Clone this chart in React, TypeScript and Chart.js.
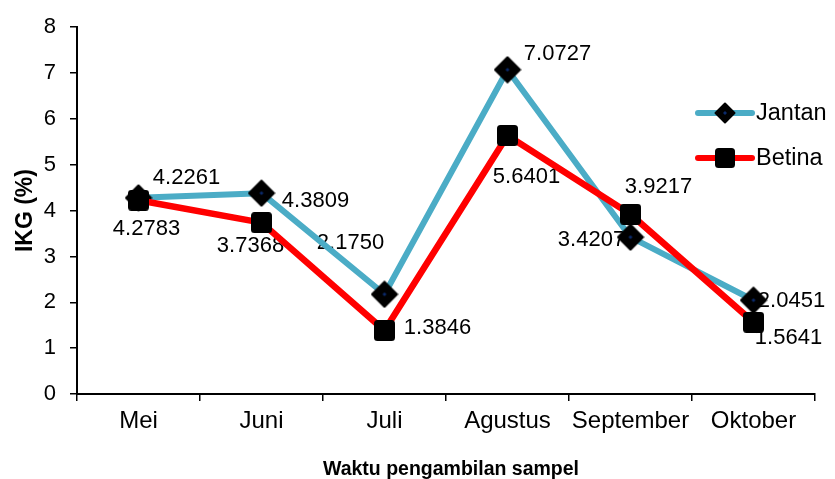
import React, { useEffect, useRef } from 'react';
import { Chart, registerables } from 'chart.js';

Chart.register(...registerables);

const categories = ['Mei', 'Juni', 'Juli', 'Agustus', 'September', 'Oktober'];
const jantanValues = [4.2783, 4.3809, 2.175, 7.0727, 3.4207, 2.0451];
const betinaValues = [4.2261, 3.7368, 1.3846, 5.6401, 3.9217, 1.5641];
const jantanLabels = ['4.2783', '4.3809', '2.1750', '7.0727', '3.4207', '2.0451'];
const betinaLabels = ['4.2261', '3.7368', '1.3846', '5.6401', '3.9217', '1.5641'];
const yMin = 0;
const yMax = 8;
const yStep = 1;
const xTitle = 'Waktu pengambilan sampel';
const yTitle = 'IKG (%)';
const seriesNames = ['Jantan', 'Betina'];

// label placement offsets (pixels from the point centre)
const jantanOffsets: [number, number][] = [[8, 31], [54, 8], [-34, -51], [50, -16], [-39, 3], [38, 1]];
const betinaOffsets: [number, number][] = [[48, -22], [-11, 23], [53, -3], [19, 42], [28, -27], [35, 16]];

const TEAL = '#4BACC6';
const RED = '#FF0000';
const FONT = "'Liberation Sans', Arial, sans-serif";

function makeDiamond(size: number): HTMLCanvasElement {
  const c = document.createElement('canvas');
  c.width = size;
  c.height = size;
  const ctx = c.getContext('2d')!;
  const h = size / 2;
  ctx.beginPath();
  ctx.moveTo(h, 1.5);
  ctx.lineTo(size - 1.5, h);
  ctx.lineTo(h, size - 1.5);
  ctx.lineTo(1.5, h);
  ctx.closePath();
  ctx.fillStyle = '#000';
  ctx.strokeStyle = '#000';
  ctx.lineWidth = 2;
  ctx.lineJoin = 'round';
  ctx.fill();
  ctx.stroke();
  ctx.fillStyle = '#0B2A6B';
  ctx.beginPath();
  ctx.moveTo(h, h - 2);
  ctx.lineTo(h + 2, h);
  ctx.lineTo(h, h + 2);
  ctx.lineTo(h - 2, h);
  ctx.closePath();
  ctx.fill();
  return c;
}

function makeSquare(size: number): HTMLCanvasElement {
  const c = document.createElement('canvas');
  c.width = size;
  c.height = size;
  const ctx = c.getContext('2d')!;
  ctx.fillStyle = '#000';
  ctx.beginPath();
  (ctx as any).roundRect(0, 0, size, size, 3.5);
  ctx.fill();
  return c;
}

export default function App() {
  const ref = useRef<HTMLCanvasElement | null>(null);

  useEffect(() => {
    if (!ref.current) return;
    const diamond = makeDiamond(28);
    const square = makeSquare(21);
    const legendDiamond = makeDiamond(22);
    const legendSquare = makeSquare(20);

    const overlay = {
      id: 'overlay',
      beforeDatasetsDraw(chart: any) {
        const ctx = chart.ctx;
        ctx.save();
        ctx.font = `22px ${FONT}`;
        ctx.fillStyle = '#000';
        ctx.textAlign = 'center';
        ctx.textBaseline = 'middle';
        const drawSet = (idx: number, labels: string[], offs: [number, number][]) => {
          const meta = chart.getDatasetMeta(idx);
          meta.data.forEach((pt: any, i: number) => {
            ctx.fillText(labels[i], pt.x + offs[i][0], pt.y + offs[i][1]);
          });
        };
        drawSet(0, jantanLabels, jantanOffsets);
        drawSet(1, betinaLabels, betinaOffsets);
        ctx.restore();
      },
      afterDraw(chart: any) {
        const ctx = chart.ctx;
        const area = chart.chartArea;
        ctx.save();
        // axis titles
        ctx.fillStyle = '#000';
        ctx.font = `bold 19.5px ${FONT}`;
        ctx.textAlign = 'center';
        ctx.textBaseline = 'alphabetic';
        ctx.fillText(xTitle, (area.left + area.right) / 2 + 5, 475);
        ctx.save();
        ctx.font = `bold 23px ${FONT}`;
        ctx.translate(32, (area.top + area.bottom) / 2);
        ctx.rotate(-Math.PI / 2);
        ctx.fillText(yTitle, 0, 0);
        ctx.restore();
        // legend
        const items = [
          { name: seriesNames[0], color: TEAL, width: 6, img: legendDiamond, y: 113 },
          { name: seriesNames[1], color: RED, width: 6, img: legendSquare, y: 158 },
        ];
        ctx.font = `23.5px ${FONT}`;
        ctx.textAlign = 'left';
        ctx.textBaseline = 'middle';
        items.forEach((it) => {
          ctx.strokeStyle = it.color;
          ctx.lineWidth = it.width;
          ctx.lineCap = 'round';
          ctx.beginPath();
          ctx.moveTo(698, it.y);
          ctx.lineTo(752, it.y);
          ctx.stroke();
          ctx.drawImage(it.img, 725 - it.img.width / 2, it.y - it.img.height / 2);
          ctx.fillStyle = '#000';
          ctx.fillText(it.name, 756, it.y + 1);
        });
        ctx.restore();
      },
    };

    const chart = new Chart(ref.current, {
      type: 'line',
      data: {
        labels: categories,
        datasets: [
          {
            label: seriesNames[0],
            data: jantanValues,
            borderColor: TEAL,
            borderWidth: 6,
            pointStyle: diamond as any,
            pointRadius: 14,
            pointHoverRadius: 14,
            tension: 0,
            order: 2,
            borderJoinStyle: 'round',
          },
          {
            label: seriesNames[1],
            data: betinaValues,
            borderColor: RED,
            borderWidth: 6.5,
            pointStyle: square as any,
            pointRadius: 11,
            pointHoverRadius: 11,
            tension: 0,
            order: 1,
            borderJoinStyle: 'round',
          },
        ],
      },
      options: {
        responsive: false,
        animation: false,
        devicePixelRatio: 1,
        layout: { padding: { top: 23, right: 10, left: 0, bottom: 0 } },
        plugins: {
          legend: { display: false },
          tooltip: { enabled: false },
          title: { display: false },
        },
        scales: {
          x: {
            type: 'category',
            offset: true,
            grid: {
              offset: true,
              drawOnChartArea: false,
              drawTicks: true,
              tickLength: 7,
              color: '#000',
              lineWidth: 1.5,
            },
            border: { color: '#000', width: 2 },
            ticks: {
              color: '#000',
              font: { family: FONT, size: 24 },
              padding: 6,
              maxRotation: 0,
              autoSkip: false,
            },
            afterFit: (s: any) => {
              s.height = 85;
            },
          },
          y: {
            min: yMin,
            max: yMax,
            grid: {
              drawOnChartArea: false,
              drawTicks: true,
              tickLength: 7,
              color: '#000',
              lineWidth: 1.5,
            },
            border: { color: '#000', width: 2 },
            ticks: {
              stepSize: yStep,
              color: '#000',
              font: { family: FONT, size: 22 },
              padding: 14,
            },
            afterFit: (s: any) => {
              s.width = 77;
            },
          },
        },
      },
      plugins: [overlay],
    });
    return () => chart.destroy();
  }, []);

  return (
    <div style={{ position: 'fixed', left: 0, top: 0, width: 835, height: 479, background: '#fff' }}>
      <canvas ref={ref} width={835} height={479} style={{ width: 835, height: 479 }} />
    </div>
  );
}
